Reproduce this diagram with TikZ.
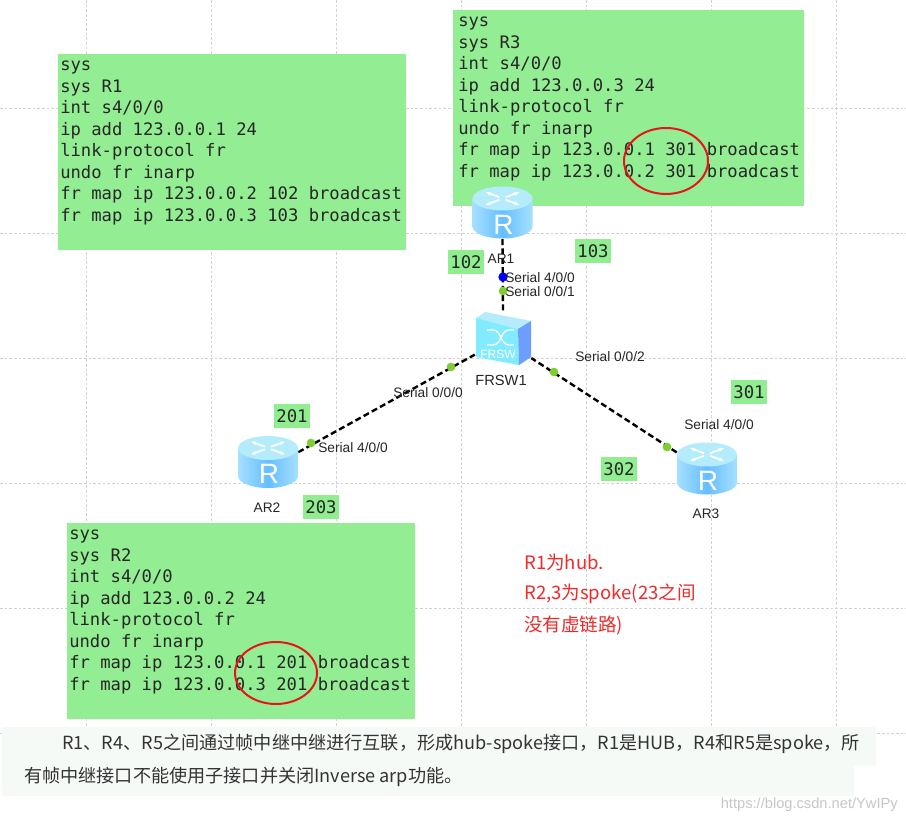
\documentclass[tikz,border=0pt]{standalone}
\usepackage{fontspec}
\setmainfont{Liberation Sans}
\setmonofont{DejaVu Sans Mono}
\newfontfamily\cjk{Noto Sans CJK SC}
\usetikzlibrary{arrows.meta, positioning}
\definecolor{cfggreen}{HTML}{90EE90}
\definecolor{gridgray}{HTML}{D2D2D2}
\definecolor{notered}{HTML}{EE2A2A}
\definecolor{circlered}{HTML}{E8141C}
\definecolor{parabg}{HTML}{F6FAF7}
\definecolor{dotgreen}{HTML}{7FCC33}
\definecolor{bodyside}{HTML}{A6E0FF}
\definecolor{bodymid}{HTML}{66BEFF}
\definecolor{bodytop}{HTML}{B5ECFC}
\tikzset{
  router/.pic={
    \path[left color=bodyside, right color=bodyside, middle color=bodymid]
      (-30,-14) -- (-30,14) arc[start angle=180, end angle=0, x radius=30, y radius=12] -- (30,-14) -- cycle;
    \fill[bodytop] (0,-14) ellipse[x radius=30, y radius=12];
    \foreach \a in {40,140,220,320}
      \draw[white, line width=1.3pt, -{Stealth[length=4pt]}]
        ({4*cos(\a)},{-14+2*sin(\a)}) -- ({22*cos(\a)},{-14+10*sin(\a)});
    \node[text=white, font=\fontsize{21}{21}\selectfont, inner sep=0pt] (rmark) at (1,12) {R};
  },
  frswitch/.pic={
    \fill[bodytop] (-27,-21) -- (-18,-27) -- (28,-18) -- (15,-10) -- cycle;
    \fill[bodyside!70!cyan!90!white] (-27,-21) -- (15,-10) -- (16,26) -- (-27,18) -- cycle;
    \fill[bodymid!70!blue!80!white] (15,-10) -- (28,-18) -- (28,18) -- (16,26) -- cycle;
    \draw[white, line width=1pt] (-16,-9) -- (-10,-9) to[out=0,in=180] (6,6) -- (11,6)
      (-16,6) -- (-10,6) to[out=0,in=180] (6,-9) -- (11,-9);
    \node[text=white, font=\fontsize{9}{9}\selectfont, inner sep=0pt] (frmark) at (-5,15) {FRSW};
  }
}
\begin{document}
\begin{tikzpicture}[x=0.75pt, y=-0.75pt,
  cfgbox/.style={anchor=north west, fill=cfggreen, fill opacity=0.97, inner sep=0pt,
                 minimum width=261pt, minimum height=146.5pt},
  cfgtext/.style={anchor=north west, align=left, inner sep=0pt,
                  font=\ttfamily\fontsize{12.9}{16.1}\selectfont, text=black!85},
  tag/.style={fill=cfggreen, text=black!85, font=\ttfamily\fontsize{13}{13}\selectfont,
              minimum width=27pt, minimum height=18pt, inner sep=0pt},
  devlabel/.style={font=\fontsize{10.3}{12}\selectfont, text=black!85, inner sep=0pt},
  portlabel/.style={devlabel, anchor=west},
  devbox/.style={minimum width=45pt, minimum height=39.5pt, inner sep=0pt},
  dot/.style={circle, fill=dotgreen, minimum size=6.5pt, inner sep=0pt},
  link/.style={black, line width=1.8pt, dash pattern=on 4.5pt off 2.5pt},
  oval/.style={draw=circlered, line width=1.5pt},
  grid line/.style={gridgray, line width=0.7pt, dash pattern=on 2pt off 1.5pt},
  note/.style={anchor=west, inner sep=0pt, text=notered, font=\cjk\fontsize{13.9}{16}\selectfont},
  para/.style={anchor=west, inner sep=0pt, text=black!80, font=\cjk\fontsize{13.6}{16}\selectfont}]
\path[use as bounding box, fill=white] (0,0) rectangle (906,823);
% grid
\foreach \x in {86,211,336,461,586,711,836}
  \draw[grid line] (\x,0) -- (\x,733);
\foreach \y in {108,233,358,483,608,733}
  \draw[grid line] (0,\y) -- (906,\y);
% config boxes
\node[cfgbox] (r1box) at (58,54) {};
\node[cfgbox, minimum width=263pt, minimum height=147pt] (r3box) at (453,10) {};
\node[cfgbox] (r2box) at (67,523) {};
\node[cfgtext] (r1cfg) at (60,61) {sys\\sys R1\\int s4/0/0\\ip add 123.0.0.1 24\\link-protocol fr\\undo fr inarp\\fr map ip 123.0.0.2 102 broadcast\\fr map ip 123.0.0.3 103 broadcast};
\node[cfgtext] (r3cfg) at (458,17) {sys\\sys R3\\int s4/0/0\\ip add 123.0.0.3 24\\link-protocol fr\\undo fr inarp\\fr map ip 123.0.0.1 301 broadcast\\fr map ip 123.0.0.2 301 broadcast};
\node[cfgtext] (r2cfg) at (69,530) {sys\\sys R2\\int s4/0/0\\ip add 123.0.0.2 24\\link-protocol fr\\undo fr inarp\\fr map ip 123.0.0.1 201 broadcast\\fr map ip 123.0.0.3 201 broadcast};
% devices
\node[devbox] (ar1) at (502.5,212.5) {};
\node[devbox] (ar2) at (268,462) {};
\node[devbox] (ar3) at (707,468.5) {};
\node[minimum width=42pt, minimum height=40pt, inner sep=0pt] (frsw1) at (503,339) {};
% links
\draw[link] (ar1.south) -- (frsw1.north);
\draw[link] (ar2.18) -- (frsw1.209);
\draw[link] (ar3.152) -- (frsw1.-34);
% ports
\node[dot, fill=blue, minimum size=7pt] (p400) at (503,277) {};
\node[dot] (p001) at (503,291) {};
\node[dot] (p000) at (451,367) {};
\node[dot] (p401) at (311,443) {};
\node[dot] (p002) at (554,372) {};
\node[dot] (p402) at (667,447) {};
\pic at (ar1) {router};
\pic at (ar2) {router};
\pic at (ar3) {router};
\pic at (frsw1) {frswitch};
% labels
\node[devlabel] (ar1lbl) at (501,259) {AR1};
\node[devlabel] (ar2lbl) at (267,508) {AR2};
\node[devlabel] (ar3lbl) at (706,514) {AR3};
\node[devlabel, font=\fontsize{11}{12}\selectfont] (frswlbl) at (501,380) {FRSW1};
\node[portlabel] (s400) at (505,277.5) {Serial 4/0/0};
\node[portlabel] (s001) at (505,291.5) {Serial 0/0/1};
\node[portlabel] (s002) at (575,357) {Serial 0/0/2};
\node[portlabel] (s000) at (393,392.5) {Serial 0/0/0};
\node[portlabel] (s401) at (318,447.5) {Serial 4/0/0};
\node[portlabel] (s402) at (684,425) {Serial 4/0/0};
% dlci tags
\node[tag] (t102) at (466,262) {102};
\node[tag] (t103) at (593,251) {103};
\node[tag] (t201) at (292,416) {201};
\node[tag] (t203) at (321,507) {203};
\node[tag] (t301) at (749,392) {301};
\node[tag] (t302) at (619,469) {302};
% red marks
\draw[oval] (666,161) ellipse[x radius=42, y radius=33];
\draw[oval] (276,673) ellipse[x radius=41, y radius=31];
\node[note] (n1) at (524,562) {R1为hub.};
\node[note] (n2) at (524,594) {R2,3为spoke(23之间};
\node[note] (n3) at (524,626) {没有虚链路)};
% task text
\fill[parabg] (2,727) rectangle (876,766);
\fill[parabg] (2,766) rectangle (854,796);
\node[para] (para1) at (62,744) {R1、R4、R5之间通过帧中继中继进行互联，形成hub-spoke接口，R1是HUB，R4和R5是spoke，所};
\node[para] (para2) at (24,777) {有帧中继接口不能使用子接口并关闭Inverse arp功能。};
\node[anchor=east, inner sep=0pt, text=black!22, font=\fontsize{11}{12}\selectfont] (mark) at (898,805) {https://blog.csdn.net/YwIPy};
\end{tikzpicture}
\end{document}
